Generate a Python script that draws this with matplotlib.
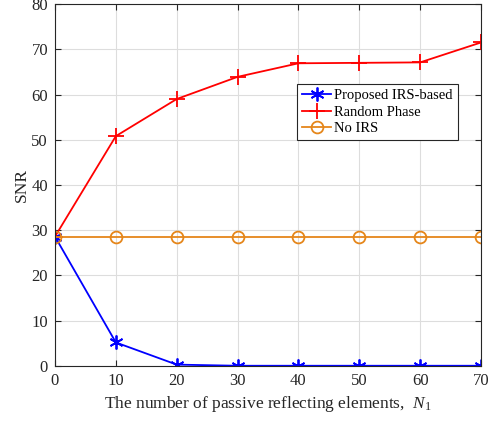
import matplotlib
matplotlib.use("Agg")
import matplotlib.pyplot as plt

plt.rcParams['font.family'] = ['Liberation Serif', 'DejaVu Serif']
plt.rcParams['mathtext.fontset'] = 'custom'
plt.rcParams['mathtext.rm'] = 'Liberation Serif'
plt.rcParams['mathtext.it'] = 'Liberation Serif:italic'

N = [0, 10, 20, 30, 40, 50, 60, 70]
proposed = [28.6, 5.2, 0.3, 0.05, 0.05, 0.05, 0.05, 0.05]
random_phase = [28.6, 50.8, 59.0, 63.9, 66.9, 67.0, 67.1, 71.5]
no_irs = [28.6, 28.6, 28.6, 28.6, 28.6, 28.6, 28.6, 28.6]
labels = ['Proposed IRS-based', 'Random Phase', 'No IRS']

fig = plt.figure(figsize=(4.94, 4.23), dpi=100)
ax = fig.add_axes([0.1113, 0.1348, 0.8624, 0.8557])

asterisk = (6, 2, 0)
ax.plot(N, proposed, color='#0000ff', marker=asterisk, markersize=10, mew=1.3, lw=1.3, label=labels[0])
ax.plot(N, random_phase, color='#ff0000', marker='+', markersize=11, mew=1.3, lw=1.3, label=labels[1])
ax.plot(N, no_irs, color='#e5861a', marker='o', markersize=8.5, mfc='none', mew=1.3, lw=1.3, label=labels[2])

ax.set_xlim(0, 70)
ax.set_ylim(0, 80)
ax.set_xticks(range(0, 71, 10))
ax.set_yticks(range(0, 81, 10))
ax.grid(True, color='#dddddd', lw=0.8)
ax.set_axisbelow(True)
ax.tick_params(direction='in', top=True, right=True, labelsize=12, colors='#262626', length=4, pad=5)
for s in ax.spines.values():
    s.set_color('#262626')
    s.set_linewidth(0.8)
ax.set_xlabel('The number of passive reflecting elements,  $N_1$', fontsize=12.5, color='#262626', labelpad=4)
ax.set_ylabel('SNR', fontsize=12.5, color='#262626', labelpad=1)

leg = ax.legend(loc='upper right', bbox_to_anchor=(0.946, 0.779), fontsize=10.5,
                frameon=True, fancybox=False, edgecolor='#262626', framealpha=1,
                handlelength=2.0, handletextpad=0.2, borderpad=0.35, labelspacing=0.22,
                borderaxespad=0)
leg.get_frame().set_linewidth(0.8)

fig.savefig('out.png', dpi=100)
